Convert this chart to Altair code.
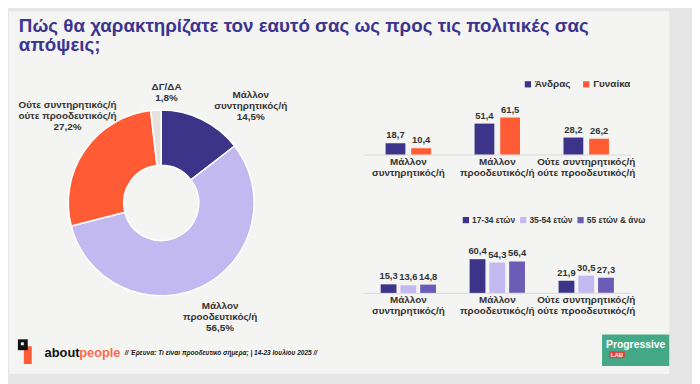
import altair as alt
import pandas as pd

# ---------------- data ----------------
title_lines = ["Πώς θα χαρακτηρίζατε τον εαυτό σας ως προς τις πολιτικές σας", "απόψεις;"]

pie_cats = ["Μάλλον συντηρητικός/ή", "Μάλλον προοδευτικός/ή",
            "Ούτε συντηρητικός/ή ούτε προοδευτικός/ή", "ΔΓ/ΔΑ"]
pie_lines = [["Μάλλον", "συντηρητικός/ή"], ["Μάλλον", "προοδευτικός/ή"],
             ["Ούτε συντηρητικός/ή", "ούτε προοδευτικός/ή"], ["ΔΓ/ΔΑ"]]
pie_vals = [14.5, 56.5, 27.2, 1.8]
pie_colors = ["#3c3488", "#c1b9ef", "#ff5c35", "#e6e1dc"]

bar_cats = pie_cats[:3]

sex_series = ["Άνδρας", "Γυναίκα"]
sex_men = [18.7, 51.4, 28.2]
sex_women = [10.4, 61.5, 26.2]
sex_colors = ["#3c3488", "#ff5c35"]

age_series = ["17-34 ετών", "35-54 ετών", "55 ετών & άνω"]
age_1734 = [15.3, 60.4, 21.9]
age_3554 = [13.6, 54.3, 30.5]
age_55 = [14.8, 56.4, 27.3]
age_colors = ["#3c3488", "#c1b9ef", "#6b5cb5"]

footer_source = "// Έρευνα: Τι είναι προοδευτικό σήμερα; | 14-23 Ιουλίου 2025 //"

FONT = "Liberation Sans"
TXT = "#333333"


def fmt(v):
    return f"{v:.1f}".replace(".", ",")


# ---------------- donut ----------------
ends = pd.Series(pie_vals).cumsum()
total = float(ends.iloc[-1])
pie_df = pd.DataFrame({
    "cat": pie_cats,
    "v": pie_vals,
    "end": ends,
    "start": ends - pd.Series(pie_vals),
    "label": ["\n".join(l + [fmt(v) + "%"]) for l, v in zip(pie_lines, pie_vals)],
})
pie_df["mid"] = (pie_df["start"] + pie_df["end"]) / 2

one = pd.DataFrame({"a": [0]})


def rect(x1, x2, y1, y2, color):
    return alt.Chart(one).mark_rect(color=color).encode(
        x=alt.value(x1), x2=alt.value(x2), y=alt.value(y1), y2=alt.value(y2))


def txt(x, y, s, baseline="middle", **kw):
    return alt.Chart(one).mark_text(baseline=baseline, **kw).encode(
        x=alt.value(x), y=alt.value(y), text=alt.value(s))


theta_scale = alt.Scale(domain=[0, total])
arc = alt.Chart(pie_df).mark_arc(outerRadius=94, innerRadius=38, stroke="white", strokeWidth=1.5).encode(
    theta=alt.Theta("start:Q", scale=theta_scale),
    theta2="end:Q",
    color=alt.Color("cat:N", scale=alt.Scale(domain=pie_cats, range=pie_colors), legend=None),
)


def pie_label(cat, radius, dx, dy):
    return alt.Chart(pie_df).mark_text(
        radius=radius, dx=dx, dy=dy, lineBreak="\n", fontSize=10, fontWeight="bold",
        color=TXT, lineHeight=11
    ).encode(
        theta=alt.Theta("mid:Q", scale=theta_scale),
        text="label:N",
    ).transform_filter(alt.datum.cat == cat)


arc_labels = [
    pie_label(pie_cats[0], 115, 40, -6),
    pie_label(pie_cats[1], 115, 9, 1),
    pie_label(pie_cats[2], 115, 0, -34),
    pie_label(pie_cats[3], 117, 12, 0),
]

background = [
    rect(-5, 685, -69, 305, "#e6e6e6"),
    rect(-5, 663, -69, 298, "#f4f4f2"),
]
title = txt(5, -48, "\n".join(title_lines), baseline="alphabetic", align="left", lineBreak="\n",
            lineHeight=19.5, fontSize=19, fontWeight="bold", color="#3b358f")
footer = [
    rect(10, 18, 270, 288, "#ff5c35"),
    rect(4, 14, 263, 274, "#111111"),
    rect(7, 10, 266, 269, "#f4f4f2"),
    txt(31, 277, "about", align="left", fontSize=13, fontWeight="bold", color="#111111"),
    txt(66, 277, "people", align="left", fontSize=13, fontWeight="bold", color="#ff6a4d"),
    txt(112, 277, footer_source, align="left", fontSize=6.6, fontWeight="bold", fontStyle="italic", color="#222222"),
    rect(595, 663, 258, 290, "#45a988"),
    txt(599, 269, "Progressive", align="left", fontSize=10.5, fontWeight="bold", color="white"),
    rect(602, 618, 275, 282, "#e2453f"),
    txt(610, 278.5, "LAB", align="center", fontSize=6, fontWeight="bold", color="white"),
]

donut = alt.layer(*background, title, arc, *arc_labels, *footer).properties(width=298, height=250)

# ---------------- bar panels ----------------
label_expr = ("datum.label == 'Ούτε συντηρητικός/ή ούτε προοδευτικός/ή' ? "
              "['Ούτε συντηρητικός/ή', 'ούτε προοδευτικός/ή'] : split(datum.label, ' ')")


def bar_panel(series, values_list, colors, ymax, height, pad_inner, pad_off,
              legend_x, legend_y, col_pad, legend_font):
    rows = []
    for s, vals in zip(series, values_list):
        for c, v in zip(bar_cats, vals):
            rows.append({"cat": c, "series": s, "v": v, "label": fmt(v)})
    df = pd.DataFrame(rows)
    base = alt.Chart(df).encode(
        x=alt.X("cat:N", sort=bar_cats,
                scale=alt.Scale(paddingInner=pad_inner, paddingOuter=pad_inner / 2),
                axis=alt.Axis(title=None, labelAngle=0, ticks=False, domainColor="#d9d9d9",
                              labelExpr=label_expr, labelFontSize=10, labelFontWeight="bold",
                              labelColor=TXT, labelPadding=2, labelLineHeight=11)),
        xOffset=alt.XOffset("series:N", sort=series,
                            scale=alt.Scale(domain=series, paddingInner=pad_off, paddingOuter=0)),
        y=alt.Y("v:Q", scale=alt.Scale(domain=[0, ymax]), axis=None),
    )
    bars = base.mark_bar().encode(
        color=alt.Color("series:N", sort=series,
                        scale=alt.Scale(domain=series, range=colors),
                        legend=alt.Legend(orient="none", legendX=legend_x, legendY=legend_y,
                                          direction="horizontal", title=None, symbolType="square",
                                          symbolSize=40, symbolStrokeWidth=0, labelFontSize=legend_font,
                                          labelFontWeight="bold", labelColor=TXT, columnPadding=col_pad,
                                          padding=0, labelOffset=2)),
    )
    texts = base.mark_text(baseline="bottom", dy=-3, fontSize=9.5, fontWeight="bold", color=TXT).encode(
        text="label:N")
    return alt.layer(bars, texts).properties(width=270, height=height)


top = bar_panel(sex_series, [sex_men, sex_women], sex_colors, 125, 76, 0.489, 0.23, 161, 0, 10, 10)
bottom = bar_panel(age_series, [age_1734, age_3554, age_55], age_colors, 140, 79, 0.378, 0.2, 99, 1, 3, 8.5)

right = alt.vconcat(top, bottom, spacing=61, bounds="flush").resolve_scale(
    color="independent", x="independent", xOffset="independent", y="independent")

chart = alt.hconcat(donut, right, spacing=56, bounds="flush").resolve_scale(
    color="independent", x="independent", y="independent").properties(
    padding=0,
    background="#e6e6e6",
).configure(font=FONT).configure_view(stroke="transparent")

chart.save("out.html", embed_options={"renderer": "svg", "actions": False})
